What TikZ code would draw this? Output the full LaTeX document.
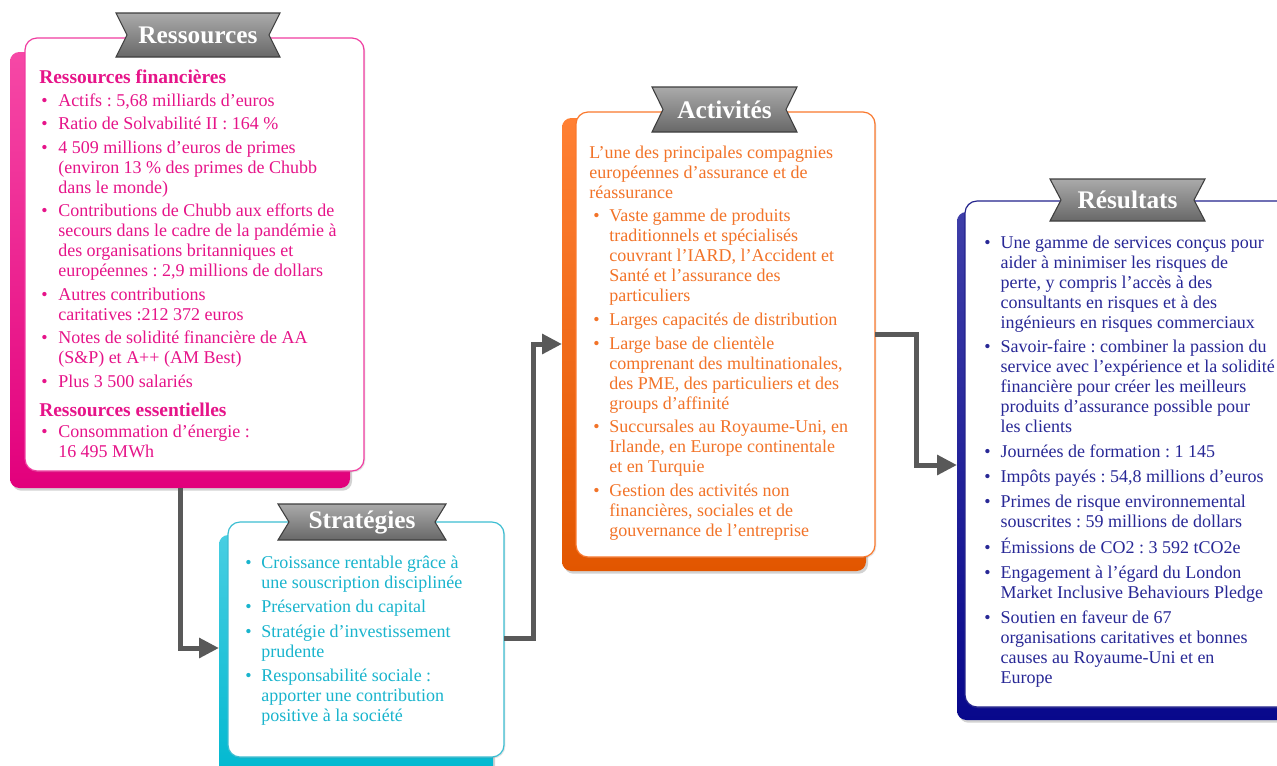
\documentclass[tikz,border=0pt]{standalone}
\usepackage{fontspec}
\setmainfont{Liberation Serif}
\usepackage{array}
\usetikzlibrary{calc,shadows,arrows.meta}

\definecolor{pinkT}{RGB}{230,20,137}
\definecolor{pinkF}{RGB}{240,60,160}
\definecolor{pinkB1}{RGB}{246,72,166}
\definecolor{pinkB2}{RGB}{226,0,124}
\definecolor{cyanT}{RGB}{25,180,205}
\definecolor{cyanF}{RGB}{60,190,210}
\definecolor{cyanB1}{RGB}{72,206,226}
\definecolor{cyanB2}{RGB}{0,184,208}
\definecolor{orT}{RGB}{242,115,40}
\definecolor{orF}{RGB}{250,120,45}
\definecolor{orB1}{RGB}{255,128,52}
\definecolor{orB2}{RGB}{226,86,0}
\definecolor{navT}{RGB}{40,40,150}
\definecolor{navF}{RGB}{35,35,140}
\definecolor{navB1}{RGB}{62,62,168}
\definecolor{navB2}{RGB}{8,8,140}
\definecolor{connC}{RGB}{89,89,89}
\definecolor{banT}{RGB}{170,170,170}
\definecolor{banB}{RGB}{104,104,104}
\definecolor{banD}{RGB}{62,62,62}

\newcommand\mybul{\textbullet}
\newcommand\hd[1]{\multicolumn{2}{@{}l@{}}{\fontsize{14.6}{15}\selectfont\bfseries #1}}

\newcommand\pbox[6]{%
  \pgfmathsetmacro\bw{(#4-#2)*0.75}%
  \pgfmathsetmacro\bh{(#5-#3)*0.75}%
  \node[#6, minimum width=\bw pt, minimum height=\bh pt, inner sep=0pt, outer sep=0pt, anchor=north west] (#1) at (#2,#3) {};}

\newcommand\banner[6]{%
  \pgfmathsetmacro\ym{(#3+#5)/2}%
  \pgfmathsetmacro\xm{(#2+#4)/2}%
  \draw[bannerst] (#2,#3) -- (#4,#3) -- ({#4-11},\ym) -- (#4,#5) -- (#2,#5) -- ({#2+11},\ym) -- cycle;
  \node[titlest] (#1) at (\xm,\ym) {#6};}

\tikzset{
  backbox/.style={rounded corners=7pt, drop shadow={opacity=0.35,shadow xshift=1.5pt,shadow yshift=-2pt}},
  frontbox/.style={fill=white, line width=0.9pt, rounded corners=9pt, drop shadow={opacity=0.2,shadow xshift=1pt,shadow yshift=-1pt}},
  bannerst/.style={draw=banD, line width=0.8pt, top color=banT, bottom color=banB},
  titlest/.style={text=white, inner sep=0pt, font=\bfseries\fontsize{19}{20}\selectfont},
  txt/.style={inner sep=0pt, anchor=base west, align=left, font=\frenchspacing\fontsize{13.5}{15}\selectfont},
  conn/.style={draw=connC, line width=3.75pt, -{Triangle[length=15pt,width=14.5pt]}},
}

\begin{document}
\begin{tikzpicture}[x=0.75pt,y=-0.75pt]
\useasboundingbox (0,0) rectangle (1277,765);
\clip (0,0) rectangle (1277,765);
\fill[white] (0,0) rectangle (1277,765);

% ---------- Ressources
\pbox{resB}{10}{52}{350}{488}{backbox, top color=pinkB1, bottom color=pinkB2}
\pbox{resF}{25}{38}{364}{471}{frontbox, draw=pinkF}
\banner{resT}{116}{13}{280}{57}{Ressources}
\node[txt, text=pinkT] (resX) at (39,83) {\begin{tabular}[t]{@{\hspace{1.5pt}}p{12.75pt}@{}l@{}}
\hd{Ressources financières}\\[2.6pt]
\mybul & Actifs : 5,68 milliards d’euros\\[2.6pt]
\mybul & Ratio de Solvabilité II : 164 \%\\[2.6pt]
\mybul & 4 509 millions d’euros de primes\\
 & (environ 13 \% des primes de Chubb\\
 & dans le monde)\\[2.6pt]
\mybul & Contributions de Chubb aux efforts de\\
 & secours dans le cadre de la pandémie à\\
 & des organisations britanniques et\\
 & européennes : 2,9 millions de dollars\\[2.6pt]
\mybul & Autres contributions\\
 & caritatives :212 372 euros\\[2.6pt]
\mybul & Notes de solidité financière de AA\\
 & (S\&P) et A++ (AM Best)\\[2.6pt]
\mybul & Plus 3 500 salariés\\[7.1pt]
\hd{Ressources essentielles}\\[0.75pt]
\mybul & Consommation d’énergie :\\
 & 16 495 MWh
\end{tabular}};

% ---------- Strategies
\pbox{strB}{219}{535}{493}{780}{backbox, top color=cyanB1, bottom color=cyanB2}
\pbox{strF}{228}{522}{504}{757}{frontbox, draw=cyanF}
\banner{strT}{278}{504}{446}{540}{Stratégies}
\node[txt, text=cyanT] (strX) at (245,568) {\begin{tabular}[t]{@{}p{12pt}@{}l@{}}
\mybul & Croissance rentable grâce à\\
 & une souscription disciplinée\\[3.4pt]
\mybul & Préservation du capital\\[3.4pt]
\mybul & Stratégie d’investissement\\
 & prudente\\[3.4pt]
\mybul & Responsabilité sociale :\\
 & apporter une contribution\\
 & positive à la société
\end{tabular}};

% ---------- Activites
\pbox{actB}{562}{118}{866}{571}{backbox, top color=orB1, bottom color=orB2}
\pbox{actF}{576}{112}{875}{557}{frontbox, draw=orF}
\banner{actT}{652}{87}{797}{132}{Activités}
\node[txt, text=orT] (actX) at (589,158) {\begin{tabular}[t]{@{\hspace{3pt}}p{12pt}@{}l@{}}
\multicolumn{2}{@{}l@{}}{L’une des principales compagnies}\\
\multicolumn{2}{@{}l@{}}{européennes d’assurance et de}\\
\multicolumn{2}{@{}l@{}}{réassurance}\\[2.8pt]
\mybul & Vaste gamme de produits\\
 & traditionnels et spécialisés\\
 & couvrant l’IARD, l’Accident et\\
 & Santé et l’assurance des\\
 & particuliers\\[2.8pt]
\mybul & Larges capacités de distribution\\[2.8pt]
\mybul & Large base de clientèle\\
 & comprenant des multinationales,\\
 & des PME, des particuliers et des\\
 & groups d’affinité\\[2.8pt]
\mybul & Succursales au Royaume-Uni, en\\
 & Irlande, en Europe continentale\\
 & et en Turquie\\[2.8pt]
\mybul & Gestion des activités non\\
 & financières, sociales et de\\
 & gouvernance de l’entreprise
\end{tabular}};

% ---------- Resultats
\pbox{resuB}{957}{212}{1295}{720}{backbox, top color=navB1, bottom color=navB2}
\pbox{resuF}{965}{201}{1305}{707}{frontbox, draw=navF}
\banner{resuT}{1050}{179}{1205}{221}{Résultats}
\node[txt, text=navT] (resuX) at (984,248) {\begin{tabular}[t]{@{}p{12.2pt}@{}l@{}}
\mybul & Une gamme de services conçus pour\\
 & aider à minimiser les risques de\\
 & perte, y compris l’accès à des\\
 & consultants en risques et à des\\
 & ingénieurs en risques commerciaux\\[3.6pt]
\mybul & Savoir-faire : combiner la passion du\\
 & service avec l’expérience et la solidité\\
 & financière pour créer les meilleurs\\
 & produits d’assurance possible pour\\
 & les clients\\[3.6pt]
\mybul & Journées de formation : 1 145\\[3.6pt]
\mybul & Impôts payés : 54,8 millions d’euros\\[3.6pt]
\mybul & Primes de risque environnemental\\
 & souscrites : 59 millions de dollars\\[3.6pt]
\mybul & Émissions de CO2 : 3 592 tCO2e\\[3.6pt]
\mybul & Engagement à l’égard du London\\
 & Market Inclusive Behaviours Pledge\\[3.6pt]
\mybul & Soutien en faveur de 67\\
 & organisations caritatives et bonnes\\
 & causes au Royaume-Uni et en\\
 & Europe
\end{tabular}};

% ---------- Connectors
\coordinate (j1) at (180,648);
\coordinate (j2) at (533,638);
\coordinate (j3) at (533,344);
\coordinate (j4) at (916,334);
\coordinate (j5) at (916,465);
\draw[conn] ($(resB.south west)+(170,0)$) |- (strB.west |- j1);
\draw[conn] (strF.east |- j2) -- (j2) -- (j3) -- (actB.west |- j3);
\draw[conn] (actF.east |- j4) -- (j4) -- (j5) -- (resuB.west |- j5);
\end{tikzpicture}
\end{document}
